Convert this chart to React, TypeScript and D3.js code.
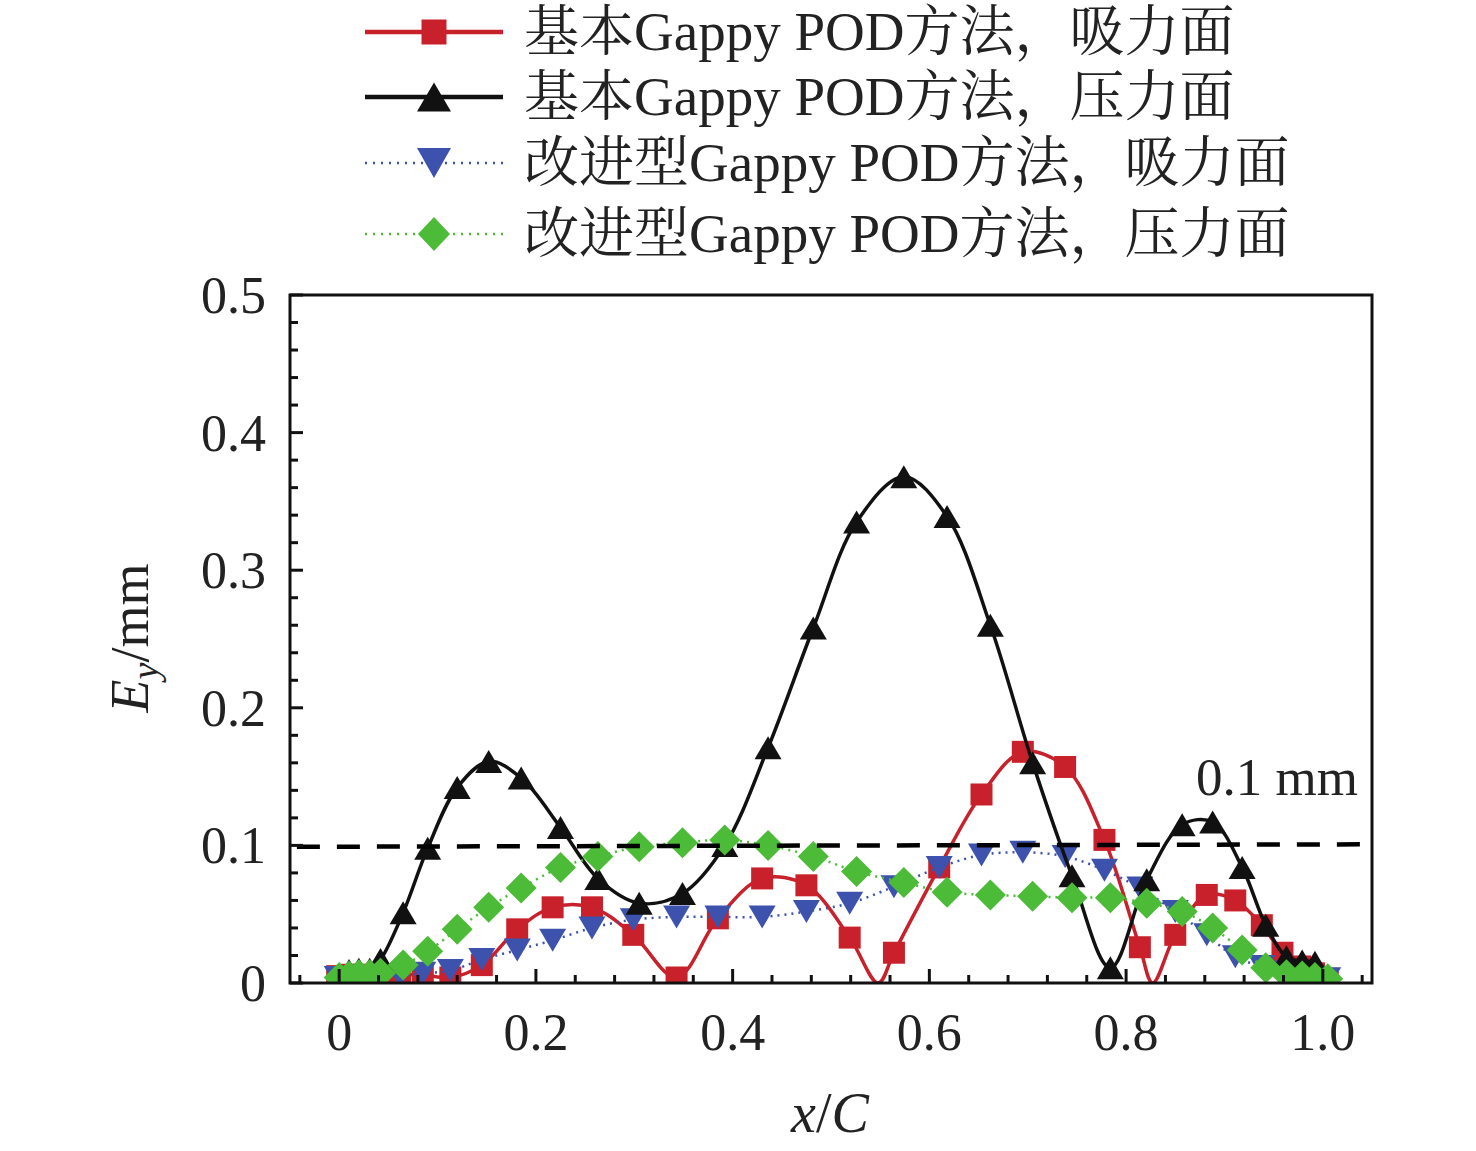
import React from "react";
import * as d3 from "d3";

// ---- data ----
const xSuction = [-0.002, 0.011, 0.025, 0.041, 0.062, 0.085, 0.113, 0.145, 0.181, 0.217, 0.257, 0.299, 0.343, 0.385, 0.43, 0.475, 0.519, 0.564, 0.61, 0.653, 0.695, 0.738, 0.778, 0.814, 0.85, 0.882, 0.911, 0.938, 0.959, 0.977, 0.991, 1.005];
const ySuctionBasic = [0.005, 0.006, 0.006, 0.006, 0.006, 0.006, 0.004, 0.013, 0.039, 0.055, 0.055, 0.035, 0.004, 0.047, 0.076, 0.071, 0.033, 0.022, 0.084, 0.137, 0.168, 0.157, 0.104, 0.026, 0.035, 0.064, 0.06, 0.042, 0.022, 0.012, 0.007, 0.003];
const ySuctionImproved = [0.004, 0.004, 0.004, 0.004, 0.005, 0.007, 0.009, 0.017, 0.024, 0.031, 0.04, 0.046, 0.048, 0.048, 0.048, 0.052, 0.058, 0.07, 0.084, 0.093, 0.095, 0.092, 0.082, 0.069, 0.052, 0.035, 0.019, 0.012, 0.008, 0.005, 0.004, 0.003];
// line-only points where the basic suction-side error curve touches zero between markers
const suctionBasicDipX = [0.548, 0.827];
const suctionBasicDipY = [0, 0];

const xPressure = [0.0, 0.01, 0.02, 0.031, 0.042, 0.065, 0.09, 0.12, 0.152, 0.185, 0.225, 0.263, 0.305, 0.349, 0.392, 0.436, 0.482, 0.526, 0.574, 0.618, 0.662, 0.705, 0.745, 0.784, 0.821, 0.857, 0.888, 0.918, 0.942, 0.963, 0.979, 0.992, 1.005];
const yPressureBasic = [0.006, 0.009, 0.01, 0.01, 0.017, 0.051, 0.098, 0.142, 0.161, 0.149, 0.113, 0.076, 0.058, 0.065, 0.1, 0.171, 0.258, 0.335, 0.368, 0.339, 0.26, 0.16, 0.078, 0.011, 0.075, 0.115, 0.117, 0.084, 0.042, 0.019, 0.016, 0.015, 0.005];
const yPressureImproved = [0.004, 0.005, 0.006, 0.006, 0.007, 0.013, 0.023, 0.039, 0.055, 0.069, 0.084, 0.092, 0.099, 0.102, 0.104, 0.1, 0.092, 0.081, 0.073, 0.066, 0.064, 0.063, 0.062, 0.062, 0.058, 0.052, 0.04, 0.024, 0.011, 0.006, 0.005, 0.004, 0.003];

const refLineX = [-0.043, 1.05];
const refLineY = [0.099, 0.1008];
const refLabel = "0.1 mm";

const xMajorTicks = [0, 0.2, 0.4, 0.6, 0.8, 1.0];
const xTickLabels = ["0", "0.2", "0.4", "0.6", "0.8", "1.0"];
const xMinorTicks = [-0.04, 0.04, 0.08, 0.12, 0.16, 0.24, 0.28, 0.32, 0.36, 0.44, 0.48, 0.52, 0.56, 0.64, 0.68, 0.72, 0.76, 0.84, 0.88, 0.92, 0.96, 1.04];
const yMajorTicks = [0, 0.1, 0.2, 0.3, 0.4, 0.5];
const yTickLabels = ["0", "0.1", "0.2", "0.3", "0.4", "0.5"];
const yMinorTicks = [0.02, 0.04, 0.06, 0.08, 0.12, 0.14, 0.16, 0.18, 0.22, 0.24, 0.26, 0.28, 0.32, 0.34, 0.36, 0.38, 0.42, 0.44, 0.46, 0.48];

const legendPrefix = ["基本", "基本", "改进型", "改进型"];
const legendMiddle = ["Gappy POD", "Gappy POD", "Gappy POD", "Gappy POD"];
const legendSuffix = ["方法，吸力面", "方法，压力面", "方法，吸力面", "方法，压力面"];

// ---- layout ----
const W = 1476;
const H = 1151;
const PL = 290, PR = 1372, PT = 295, PB = 983;
const SERIF = "'Liberation Serif', 'Times New Roman', 'Noto Serif CJK SC', 'Noto Sans CJK SC', serif";

const RED = "#c9212b";
const BLACK = "#111111";
const BLUE = "#3d52ad";
const GREEN = "#4cbb37";

type Shape = "square" | "triUp" | "triDown" | "diamond";

function markerPath(shape: Shape, w: number, h: number): string {
  const a = w / 2, b = h / 2;
  switch (shape) {
    case "square":
      return `M${-a},${-b}H${a}V${b}H${-a}Z`;
    case "triUp":
      return `M0,${-b}L${a},${b}L${-a},${b}Z`;
    case "triDown":
      return `M0,${b}L${a},${-b}L${-a},${-b}Z`;
    case "diamond":
      return `M0,${-b}L${a},0L0,${b}L${-a},0Z`;
  }
}

type Series = {
  xs: number[];
  ys: number[];
  extraX?: number[];
  extraY?: number[];
  color: string;
  dotted: boolean;
  shape: Shape;
  mw: number;
  mh: number;
  lw: number;
  legW: number;
  legH: number;
};

const seriesList: Series[] = [
  { xs: xSuction, ys: ySuctionBasic, extraX: suctionBasicDipX, extraY: suctionBasicDipY, color: RED, dotted: false, shape: "square", mw: 22, mh: 22, lw: 3.5, legW: 25, legH: 25 },
  { xs: xPressure, ys: yPressureBasic, color: BLACK, dotted: false, shape: "triUp", mw: 27, mh: 23, lw: 3.5, legW: 34, legH: 29 },
  { xs: xSuction, ys: ySuctionImproved, color: BLUE, dotted: true, shape: "triDown", mw: 27, mh: 23, lw: 2.5, legW: 34, legH: 30 },
  { xs: xPressure, ys: yPressureImproved, color: GREEN, dotted: true, shape: "diamond", mw: 31, mh: 31, lw: 2.5, legW: 32, legH: 34 },
];

// draw order: red, blue, black, green
const drawOrder = [0, 2, 1, 3];
const legendRowsY = [32, 97, 163, 234];

export default function App() {
  const x = d3.scaleLinear().domain([-0.05, 1.05]).range([PL, PR]);
  const y = d3.scaleLinear().domain([0, 0.5]).range([PB, PT]);

  const lineGen = d3
    .line<[number, number]>()
    .x((d) => x(d[0]))
    .y((d) => y(d[1]))
    .curve(d3.curveCatmullRom.alpha(0.5));

  const refGen = d3
    .line<[number, number]>()
    .x((d) => x(d[0]))
    .y((d) => y(d[1]));

  const refPts: [number, number][] = refLineX.map((v, i) => [v, refLineY[i]]);

  return (
    <>
      <style>{`body{margin:0;background:#fff}`}</style>
      <svg width={W} height={H} viewBox={`0 0 ${W} ${H}`} style={{ display: "block", background: "#fff" }}>
        <defs>
          <clipPath id="plotClip">
            <rect x={PL} y={PT} width={PR - PL} height={PB - PT} />
          </clipPath>
        </defs>

        {/* series */}
        <g clipPath="url(#plotClip)">
          {drawOrder.map((si) => {
            const s = seriesList[si];
            const pts: [number, number][] = s.xs.map((v, i) => [v, s.ys[i]]);
            if (s.extraX && s.extraY) {
              s.extraX.forEach((v, i) => pts.push([v, s.extraY![i]]));
            }
            pts.sort((a, b) => a[0] - b[0]);
            const mp = markerPath(s.shape, s.mw, s.mh);
            return (
              <g key={si}>
                <path
                  d={lineGen(pts) || ""}
                  fill="none"
                  stroke={s.color}
                  strokeWidth={s.lw}
                  strokeDasharray={s.dotted ? "2,5" : undefined}
                  strokeLinejoin="round"
                />
                {s.xs.map((v, i) => (
                  <path key={i} d={mp} transform={`translate(${x(v)},${y(s.ys[i])})`} fill={s.color} />
                ))}
              </g>
            );
          })}
          {/* 0.1 mm reference line */}
          <path d={refGen(refPts) || ""} fill="none" stroke="#000" strokeWidth={4.5} strokeDasharray="23,17" />
        </g>

        <text x={1196} y={795} fontFamily={SERIF} fontSize={53} fill="#222">
          {refLabel}
        </text>

        {/* frame */}
        <rect x={PL} y={PT} width={PR - PL} height={PB - PT} fill="none" stroke="#111" strokeWidth={3} />

        {/* x ticks */}
        {xMajorTicks.map((t, i) => (
          <line key={"xm" + i} x1={x(t)} x2={x(t)} y1={PB} y2={PB - 14} stroke="#111" strokeWidth={3} />
        ))}
        {xMinorTicks.map((t, i) => (
          <line key={"xn" + i} x1={x(t)} x2={x(t)} y1={PB} y2={PB - 8} stroke="#111" strokeWidth={3} />
        ))}
        {xMajorTicks.map((t, i) => (
          <text key={"xl" + i} x={x(t)} y={1050} textAnchor="middle" fontFamily={SERIF} fontSize={52} fill="#222">
            {xTickLabels[i]}
          </text>
        ))}

        {/* y ticks */}
        {yMajorTicks.map((t, i) => (
          <line key={"ym" + i} x1={PL} x2={PL + 13} y1={y(t)} y2={y(t)} stroke="#111" strokeWidth={3} />
        ))}
        {yMinorTicks.map((t, i) => (
          <line key={"yn" + i} x1={PL} x2={PL + 8} y1={y(t)} y2={y(t)} stroke="#111" strokeWidth={3} />
        ))}
        {yMajorTicks.map((t, i) => (
          <text key={"yl" + i} x={266} y={y(t) + 18} textAnchor="end" fontFamily={SERIF} fontSize={52} fill="#222">
            {yTickLabels[i]}
          </text>
        ))}

        {/* axis titles */}
        <text x={830} y={1132} textAnchor="middle" fontFamily={SERIF} fontSize={56} fill="#222">
          <tspan fontStyle="italic">x</tspan>
          <tspan>/</tspan>
          <tspan fontStyle="italic">C</tspan>
        </text>
        <text
          transform="translate(148,638) rotate(-90)"
          textAnchor="middle"
          fontFamily={SERIF}
          fontSize={54}
          fill="#222"
        >
          <tspan fontStyle="italic">E</tspan>
          <tspan fontStyle="italic" fontSize={38} dy={10}>y</tspan>
          <tspan dy={-10}>/mm</tspan>
        </text>

        {/* legend */}
        {seriesList.map((s, i) => {
          const ly = legendRowsY[i];
          return (
            <g key={"lg" + i}>
              <line
                x1={365}
                x2={503}
                y1={ly}
                y2={ly}
                stroke={s.color}
                strokeWidth={s.dotted ? 2.5 : 4.5}
                strokeDasharray={s.dotted ? "2,6" : undefined}
              />
              <path d={markerPath(s.shape, s.legW, s.legH)} transform={`translate(434,${ly})`} fill={s.color} />
              <text x={524} y={ly + 18} fontFamily={SERIF} fontSize={55} fill="#222">
                <tspan>{legendPrefix[i]}</tspan>
                <tspan>{legendMiddle[i]}</tspan>
                <tspan>{legendSuffix[i]}</tspan>
              </text>
            </g>
          );
        })}
      </svg>
    </>
  );
}
